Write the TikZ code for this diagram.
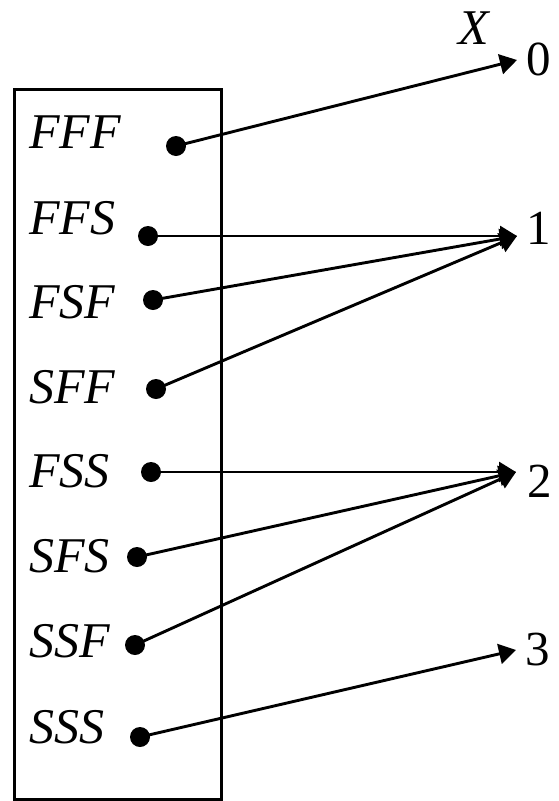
\documentclass[tikz,border=0pt]{standalone}
\usepackage{fontspec}
\setmainfont{Liberation Serif}
\usetikzlibrary{arrows.meta}
\begin{document}
\begin{tikzpicture}[x=1pt,y=-1pt,
  outcome/.style={anchor=west,inner sep=0pt,font=\fontsize{50}{60}\selectfont\itshape},
  value/.style={inner sep=0pt,font=\fontsize{49}{60}\selectfont},
  dot/.style={circle,fill=black,inner sep=0pt,minimum size=20pt},
  link/.style={line width=2.9pt,-{Triangle[length=17pt,width=20pt]}}
]
\useasboundingbox (0,0) rectangle (558,801);

% sample space frame
\node[draw,line width=2.9pt,minimum width=207pt,minimum height=710pt,inner sep=0pt,anchor=north west] (box) at (13,88) {};

% outcomes
\node[outcome] (lFFF) at (29,132) {FFF};
\node[outcome] (lFFS) at (29,218) {FFS};
\node[outcome] (lFSF) at (29,302) {FSF};
\node[outcome] (lSFF) at (29,387) {SFF};
\node[outcome] (lFSS) at (29,471) {FSS};
\node[outcome] (lSFS) at (29,556) {SFS};
\node[outcome] (lSSF) at (29,641) {SSF};
\node[outcome] (lSSS) at (29,727) {SSS};

\node[dot] (dFFF) at (176,146) {};
\node[dot] (dFFS) at (148,236) {};
\node[dot] (dFSF) at (153,300) {};
\node[dot] (dSFF) at (156,389) {};
\node[dot] (dFSS) at (151,472) {};
\node[dot] (dSFS) at (137,557) {};
\node[dot] (dSSF) at (135,645) {};
\node[dot] (dSSS) at (140,737) {};

% values of X
\node[font=\fontsize{50}{60}\selectfont\itshape,inner sep=0pt] (X) at (474,28) {X};
\coordinate (t0) at (517,60);
\coordinate (t1) at (517,236);
\coordinate (t2) at (516,472);
\coordinate (t3) at (516,650);
\node[value] (v0) at (539,59) {0};
\node[value] (v1) at (539,228) {1};
\node[value] (v2) at (540,481) {2};
\node[value] (v3) at (538,650) {3};

% mapping
\draw[link] (dFFF.center) -- (t0);
\draw[link] (dFFS.center) -- (t1);
\draw[link] (dFSF.center) -- (t1);
\draw[link] (dSFF.center) -- (t1);
\draw[link] (dFSS.center) -- (t2);
\draw[link] (dSFS.center) -- (t2);
\draw[link] (dSSF.center) -- (t2);
\draw[link] (dSSS.center) -- (t3);
\end{tikzpicture}
\end{document}
